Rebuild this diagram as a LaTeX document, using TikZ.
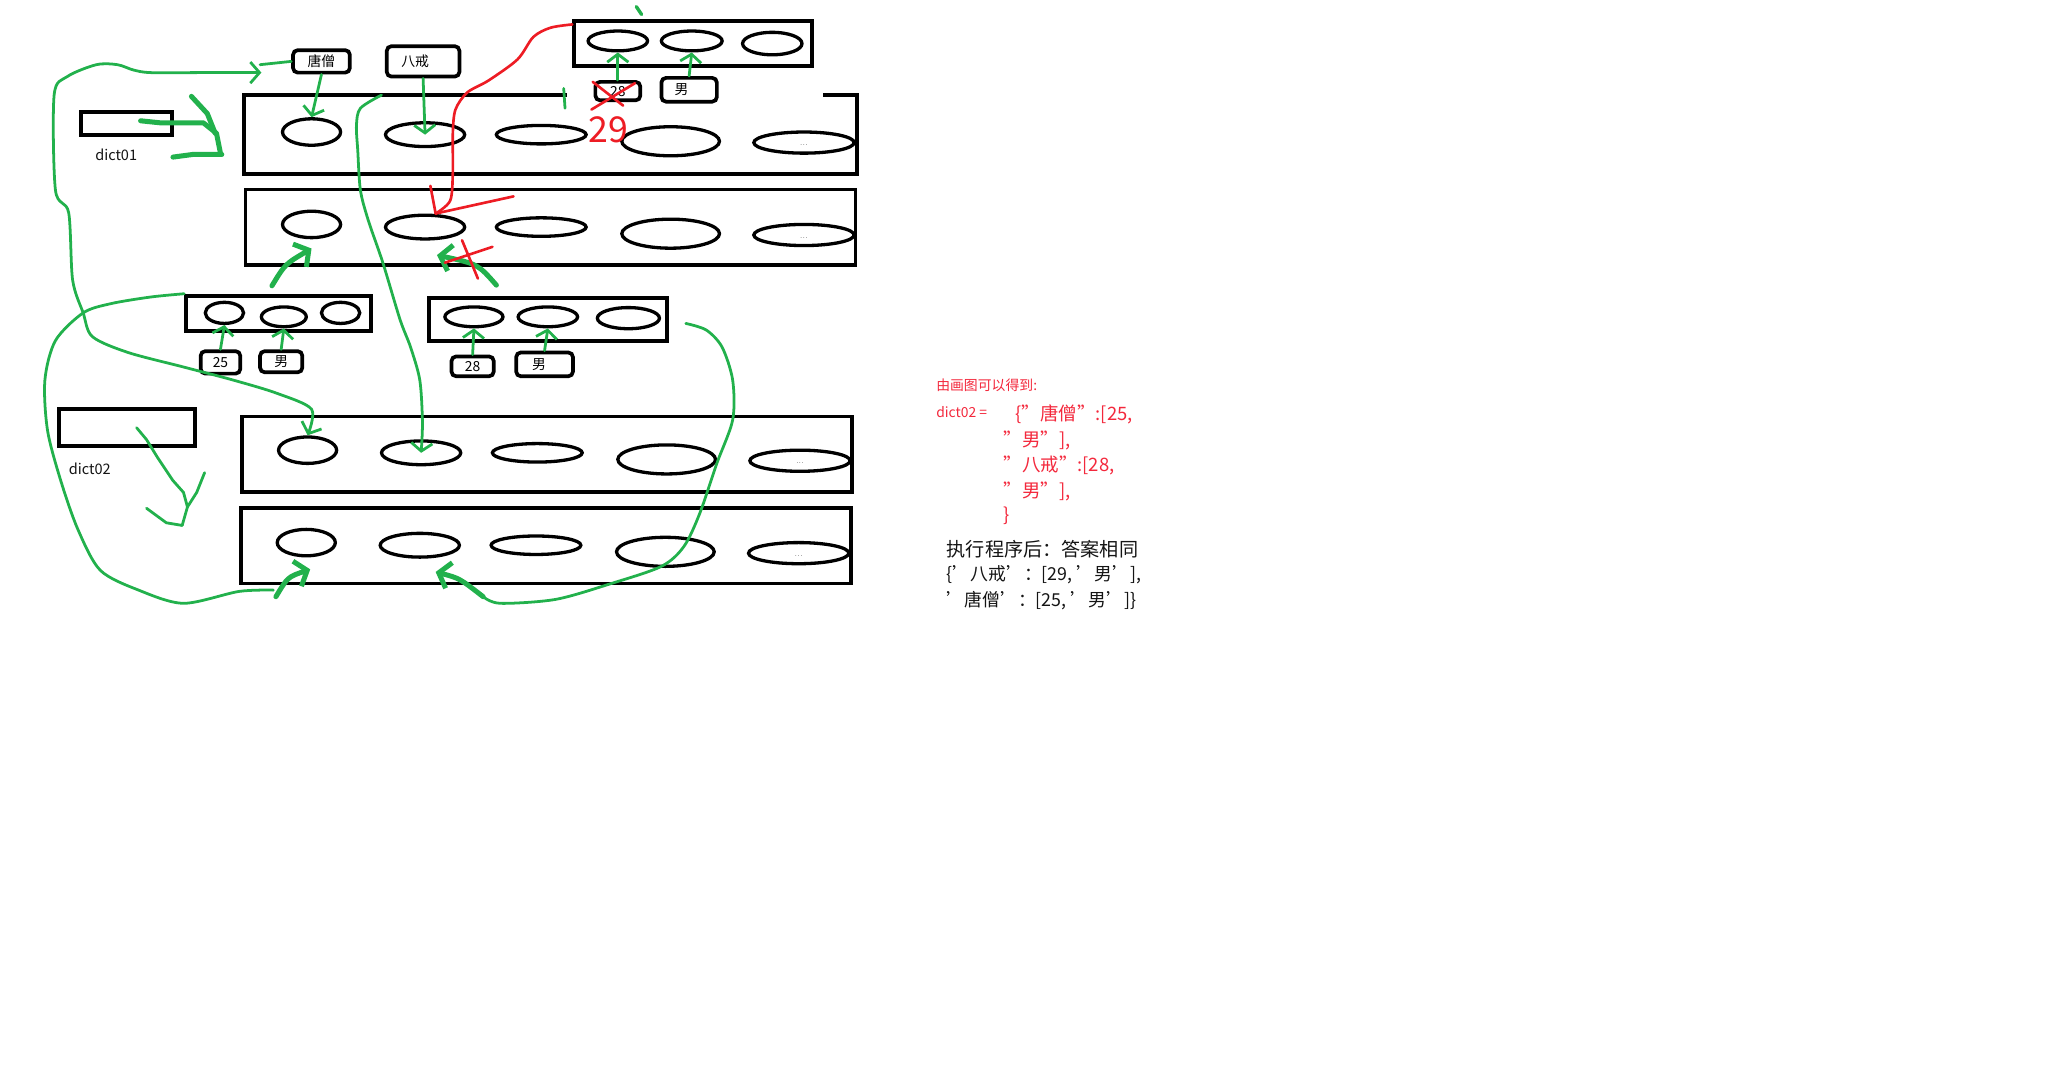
\documentclass[tikz,border=0pt]{standalone}
\usepackage{fontspec}
\newfontfamily\cjk{Noto Sans CJK SC}
\usetikzlibrary{arrows.meta, shapes.geometric}
\definecolor{pgreen}{RGB}{34,177,76}
\definecolor{pred}{RGB}{237,28,36}
\definecolor{notered}{RGB}{243,40,60}
\definecolor{ink}{RGB}{20,20,20}

\begin{document}
\begin{tikzpicture}[
  x=1pt, y=-1pt,
  rowbox/.style={draw=black, line width=2.9pt, minimum width=462pt,
                 minimum height=57pt, inner sep=0pt},
  listbox/.style={draw=black, line width=3pt, inner sep=0pt},
  cell/.style={ellipse, draw=black, line width=2.5pt, inner sep=0pt},
  valbox/.style={draw=black, line width=2.8pt, rounded corners=3.5pt,
                 inner sep=0pt, font=\cjk\fontsize{10.5}{12}\selectfont},
  varbox/.style={draw=black, line width=3pt, inner sep=0pt},
  varname/.style={font=\cjk\fontsize{11}{13}\selectfont, text=ink, inner sep=0pt},
  link/.style={draw=pgreen, line width=2.1pt, line cap=round, line join=round,
               -{Straight Barb[length=6pt, width=16pt]}},
  hook/.style={draw=pgreen, line width=2.1pt, line cap=round, line join=round},
  boldlink/.style={draw=pgreen, line width=3.8pt, line cap=round, line join=round},
  fix/.style={draw=pred, line width=2pt, line cap=round, line join=round},
  note/.style={anchor=west, inner sep=0pt, text=notered,
               font=\cjk\fontsize{10.5}{12}\selectfont},
  answer/.style={anchor=west, inner sep=0pt, text=ink,
                 font=\cjk\fontsize{14.5}{16}\selectfont}]

  \useasboundingbox (0,0) rectangle (1568,809);

  % --- the hash tables behind dict01 (top two rows) and dict02
  \node[rowbox, draw=none] (row1) at (417,102) {};
  \draw[line width=2.9pt] ([xshift=245pt]row1.north west) -- (row1.north west)
    -- (row1.south west) -- (row1.south east) -- (row1.north east) -- ++(-26,0);
  \node[rowbox] (row2) at (417,172) {};
  \node[rowbox] (row3) at (414.5,344) {};
  \node[rowbox] (row4) at (413.5,413.5) {};
  \foreach \r/\x/\y in {1/186/74, 2/186/144, 3/183/315, 4/182/385}
    \foreach \i/\dx/\dy/\w/\h in {1/50/26/44/20, 2/136/28/60/18, 3/224/28/68/14,
                                  4/322/33/74/22, 5/423/34/76/16}
      \node[cell, minimum width=\w pt, minimum height=\h pt] (r\r-\i) at (\x+\dx, \y+\dy) {};
  \foreach \r in {1,...,4}
    \node[font=\tiny, inner sep=0pt] (dots\r) at ([yshift=-2pt]r\r-5.center) {...};

  % --- the variables
  \node[varbox, minimum width=69pt, minimum height=17pt] (d1) at (95.5,93.5) {};
  \node[varname] (d1name) at (88,117) {dict01};
  \node[varbox, minimum width=103pt, minimum height=28pt] (d2) at (96.5,324) {};
  \node[varname] (d2name) at (68,355) {dict02};

  % --- keys
  \node[valbox, minimum width=43pt, minimum height=17pt] (ts) at (243.5,46.5) {唐僧};
  \node[valbox, minimum width=55pt, minimum height=23pt, text width=33pt,
        align=left] (bj) at (320.5,46.5) {八戒};

  % --- the value lists and what they hold
  \node[listbox, minimum width=140pt, minimum height=27pt] (l1) at (211,237.5) {};
  \node[cell, minimum width=29pt, minimum height=16pt] (l1-1) at (170,237) {};
  \node[cell, minimum width=34pt, minimum height=15pt] (l1-2) at (215,240) {};
  \node[cell, minimum width=29pt, minimum height=16pt] (l1-3) at (258,237) {};
  \node[listbox, minimum width=180pt, minimum height=33pt] (l2) at (415,242) {};
  \node[cell, minimum width=44pt, minimum height=15pt] (l2-1) at (359,240) {};
  \node[cell, minimum width=45pt, minimum height=15pt] (l2-2) at (415,240) {};
  \node[cell, minimum width=47pt, minimum height=16pt] (l2-3) at (476,241) {};
  \node[listbox, minimum width=180pt, minimum height=34pt] (l3) at (525,33) {};
  \node[cell, minimum width=45pt, minimum height=15pt] (l3-1) at (468,31) {};
  \node[cell, minimum width=46pt, minimum height=15pt] (l3-2) at (524,31) {};
  \node[cell, minimum width=45pt, minimum height=17pt] (l3-3) at (585,33) {};

  \node[valbox, minimum width=30pt, minimum height=17pt] (v25) at (167,274.5) {25};
  \node[valbox, minimum width=32pt, minimum height=16pt] (m1) at (213,274) {男};
  \node[valbox, minimum width=32pt, minimum height=15pt] (v28) at (358,277.5) {28};
  \node[valbox, minimum width=43pt, minimum height=18pt, text width=19pt,
        align=left] (m2) at (412.5,276) {男};
  \node[valbox, minimum width=34pt, minimum height=14pt] (old) at (468,69) {28};
  \node[valbox, minimum width=42pt, minimum height=18pt, text width=22pt,
        align=left] (m3) at (522,68) {男};
  \foreach \v/\c in {v25/l1-1, m1/l1-2, v28/l2-1, m2/l2-2, old/l3-1, m3/l3-2}
    \draw[link] (\v.north) -- (\c.south);

  % --- dict01
  \draw[boldlink] ([xshift=11pt,yshift=2pt]d1.center) -- (121,93) -- (154,93)
    -- (164,101) -- (167,116);
  \draw[boldlink] (145,73) -- (157,86) -- (163,101);
  \draw[boldlink] (131,119) -- (146,117) -- (168,117);
  \draw[link] (ts.south) .. controls (240,72) .. (r1-1.north);
  \draw[link] (bj.south) -- (r1-2.center);
  \draw[boldlink, -{Straight Barb[length=8pt, width=20pt]}]
    ([xshift=-5pt,yshift=6pt]l1.north) .. controls (216,200) .. ([yshift=-7pt]r2-1.south);
  \draw[boldlink, -{Straight Barb[length=8pt, width=20pt]}]
    ([xshift=-39pt,yshift=8pt]l2.north) .. controls (362,200) .. ([xshift=9pt,yshift=-11pt]r2-2.south);

  % --- dict02
  \draw[hook] ([xshift=7pt]d2.center) -- (111,333) -- (119,346) -- (131,364)
    -- (139,373) -- (142,384) -- (138,398);
  \draw[hook] (111,385) -- (126,396) -- (138,398);
  \draw[hook] (155,358) -- (149,373) -- (142,384);
  \draw[hook] (ts.west) -- (197,49);
  \draw[link, {Straight Barb[length=7pt, width=16pt]}-{Straight Barb[length=7pt, width=16pt]}]
    plot[smooth] coordinates {(198,55) (150,55) (114,55) (101,53) (89,49) (73,49)
      (51,58) (41,72) (42,144) (52,161) (55,212) (63,237) (70,255) (97,267)
      (139,278) (177,288) (210,298) (236,310) (r3-1.north)};
  \coordinate (bjtail) at (289,72);
  \draw[link] plot[smooth] coordinates {(bjtail) (273,82) (270,95) (271,114)
      (273,144) (279,167) (290,199) (303,242) (311,263) (318,288) (320,320)
      (r3-2.center)};
  \draw[hook] plot[smooth] coordinates {(l1.north west) (114,225) (84,230) (63,237)
      (42,258) (34,288) (36,326) (46,364) (59,401) (76,432) (105,447) (139,457)
      (181,448) (207,447)};
  \draw[boldlink, -{Straight Barb[length=8pt, width=20pt]}]
    (209,452) .. controls (218,437) .. ([xshift=3pt,yshift=-9pt]r4-1.south);
  \draw[hook] plot[smooth] coordinates {([xshift=13pt,yshift=-3pt]l2.east) (535,250)
      (547,263) (555,288) (555,318) (543,351) (530,389) (518,414) (501,429)
      (463,442) (421,454) (379,457) (366,452)};
  \draw[boldlink, -{Straight Barb[length=8pt, width=20pt]}]
    (366,452) .. controls (348,438) .. ([xshift=12pt,yshift=-10pt]r4-2.south);
  \draw[hook, line width=2.6pt] (482,5) -- (486,11);
  \draw[hook] (427,67) -- (428,82);

  % --- the change of the age
  \coordinate (redtip) at ([xshift=8pt]r2-2.north);
  \draw[fix] plot[smooth] coordinates {([yshift=-4pt]l3.north west) (417,21)
      (404,28) (392,45) (370,61) (354,70) (345,83) (343,101) (343,131) (341,152)
      (redtip)};
  \draw[fix] (redtip) -- ++(-4,-21);
  \draw[fix] (redtip) -- ++(59,-13);
  \draw[fix] (448,83) -- (481,63);
  \draw[fix] (449,62) -- (472,80);
  \draw[fix] (337,199) -- (373,187);
  \draw[fix] (350,182) -- (362,211);
  \node[inner sep=0pt, text=pred, font=\cjk\fontsize{27}{27}\selectfont]
    (new29) at (461,98) {29};

  % --- notes on the right
  \node[note] (hint) at (709,291.5) {由画图可以得到:};
  \node[note] (lhs) at (709,312) {dict02 =};
  \node[note, font=\cjk\fontsize{14}{16}\selectfont] (e1) at (769,313.5) {\{”唐僧”:[25,};
  \node[note, font=\cjk\fontsize{14}{16}\selectfont] (e2) at (760,333.5) {”男”],};
  \node[note, font=\cjk\fontsize{14}{16}\selectfont] (e3) at (760,352.5) {”八戒”:[28,};
  \node[note, font=\cjk\fontsize{14}{16}\selectfont] (e4) at (760,372) {”男”],};
  \node[note, font=\cjk\fontsize{14}{16}\selectfont] (e5) at (760,391) {\}};
  \node[answer] (a1) at (717,416) {执行程序后：答案相同};
  \node[answer, font=\cjk\fontsize{13.5}{16}\selectfont] (a2) at (717,435.5) {\{’八戒’：[29, ’男’],};
  \node[answer, font=\cjk\fontsize{13.5}{16}\selectfont] (a3) at (717,455) {’唐僧’：[25, ’男’]\}};
\end{tikzpicture}
\end{document}
